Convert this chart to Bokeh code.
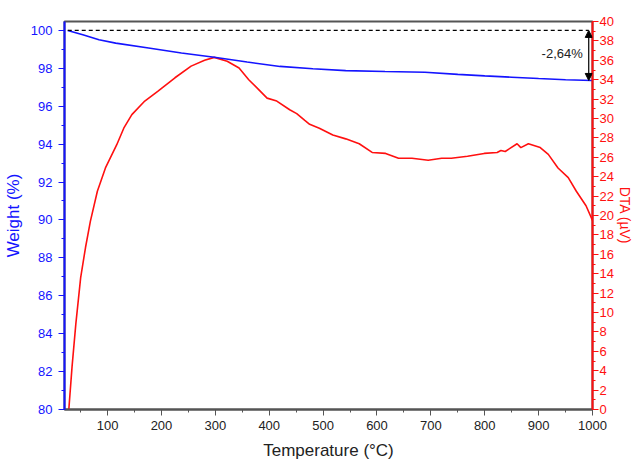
from bokeh.plotting import figure
from bokeh.models import (Range1d, LinearAxis, SingleIntervalTicker, Label, Arrow,
                          NormalHead)
from bokeh.embed import file_html
from bokeh.resources import INLINE

# Weight (TGA) curve
t_weight = [26, 54, 84, 115, 176, 237, 298, 359, 420, 481, 542, 615, 689, 750, 800, 850, 900, 950, 1000]
weight = [100.0, 99.77, 99.51, 99.33, 99.07, 98.81, 98.58, 98.33, 98.10, 97.98, 97.88, 97.83,
          97.79, 97.68, 97.60, 97.53, 97.46, 97.40, 97.36]

# DTA curve
t_dta = [28, 34, 41, 50, 59, 68, 81, 96, 117, 130, 145, 169, 193, 225, 255, 280, 298,
         322, 344, 362, 380, 396, 414, 438, 451, 466, 475, 493, 518, 542, 567, 591, 616,
         640, 665, 695, 720, 738, 768, 799, 823, 830, 838, 860, 867, 881, 903, 918, 936,
         955, 970, 988, 1000]
dta = [0.0, 4.4, 8.8, 13.6, 16.7, 19.4, 22.5, 24.9, 27.3, 29.0, 30.4, 31.8, 32.8, 34.2,
       35.4, 36.0, 36.3, 35.9, 35.2, 34.0, 33.0, 32.1, 31.8, 30.9, 30.5, 29.8, 29.4, 29.0,
       28.3, 27.9, 27.4, 26.5, 26.4, 25.9, 25.9, 25.7, 25.9, 25.9, 26.1, 26.4, 26.5, 26.7,
       26.6, 27.4, 27.0, 27.4, 27.0, 26.3, 24.9, 23.9, 22.5, 21.0, 19.5]

# annotation
loss_x = 993
loss_top = 100.0
loss_bottom = 97.36
loss_text = "-2,64%"

FONT = "Liberation Sans"
BLUE = "#1414ff"
RED = "#ff1010"
GRAY = "#555555"

p = figure(width=635, height=462, output_backend="svg", toolbar_location=None,
           x_range=Range1d(20, 1000), y_range=Range1d(80, 100.47),
           min_border_left=57, min_border_right=40, min_border_top=21, min_border_bottom=40)
p.background_fill_color = "white"
p.border_fill_color = "white"
p.outline_line_color = GRAY
p.outline_line_width = 2
p.xgrid.visible = False
p.ygrid.visible = False

p.extra_y_ranges = {"dta": Range1d(0, 40)}

# x axis
xa = p.xaxis[0]
xa.ticker = SingleIntervalTicker(interval=100, num_minor_ticks=2)
xa.axis_label = "Temperature (°C)"
xa.axis_label_text_font = FONT
xa.axis_label_text_font_size = "17px"
xa.axis_label_text_font_style = "normal"
xa.axis_label_text_color = "#222222"
xa.major_label_text_font = FONT
xa.major_label_text_font_size = "13px"
xa.major_label_text_color = "#222222"
xa.axis_line_color = GRAY
xa.axis_line_width = 2
xa.major_tick_line_color = GRAY
xa.minor_tick_line_color = GRAY
xa.major_tick_in = 0
xa.major_tick_out = 6
xa.minor_tick_in = 0
xa.minor_tick_out = 3
xa.major_label_standoff = 5
xa.axis_label_standoff = 8

# left axis
ya = p.yaxis[0]
ya.ticker = SingleIntervalTicker(interval=2, num_minor_ticks=2)
ya.axis_label = "Weight (%)"
ya.axis_label_text_font = FONT
ya.axis_label_text_font_size = "17px"
ya.axis_label_text_font_style = "normal"
ya.axis_label_text_color = BLUE
ya.major_label_text_font = FONT
ya.major_label_text_font_size = "13px"
ya.major_label_text_color = BLUE
ya.axis_line_color = BLUE
ya.axis_line_width = 2
ya.major_tick_line_color = BLUE
ya.minor_tick_line_color = BLUE
ya.major_tick_in = 0
ya.major_tick_out = 6
ya.minor_tick_in = 0
ya.minor_tick_out = 3
ya.major_label_standoff = 6

# right axis
ra = LinearAxis(y_range_name="dta",
                ticker=SingleIntervalTicker(interval=2, num_minor_ticks=2))
ra.axis_label = "DTA (µV)"
ra.axis_label_text_font = FONT
ra.axis_label_text_font_size = "14px"
ra.axis_label_text_font_style = "normal"
ra.axis_label_text_color = RED
ra.axis_label_standoff = 0
ra.major_label_text_font = FONT
ra.major_label_text_font_size = "13px"
ra.major_label_text_color = RED
ra.axis_line_color = RED
ra.axis_line_width = 2
ra.major_tick_line_color = RED
ra.minor_tick_line_color = RED
ra.major_tick_in = 0
ra.major_tick_out = 6
ra.minor_tick_in = 0
ra.minor_tick_out = 3
ra.major_label_standoff = 1
p.add_layout(ra, "right")

# curves
p.line(t_dta, dta, y_range_name="dta", line_color=RED, line_width=1.6)
p.line(t_weight, weight, line_color=BLUE, line_width=1.6)

# dashed reference line at 100 %
p.line([t_weight[0], loss_x], [loss_top, loss_top], line_color="black",
       line_width=1.4, line_dash="4 3")

# double arrow
p.add_layout(Arrow(x_start=loss_x, y_start=loss_top, x_end=loss_x, y_end=loss_bottom,
                   line_color="black", line_width=1.2,
                   start=NormalHead(size=7, fill_color="black", line_color="black"),
                   end=NormalHead(size=7, fill_color="black", line_color="black")))

p.add_layout(Label(x=982, y=98.8, text=loss_text, text_align="right",
                   text_baseline="middle", text_font=FONT, text_font_size="13px",
                   text_color="#222222"))

open("out.html", "w").write(file_html(p, INLINE))
